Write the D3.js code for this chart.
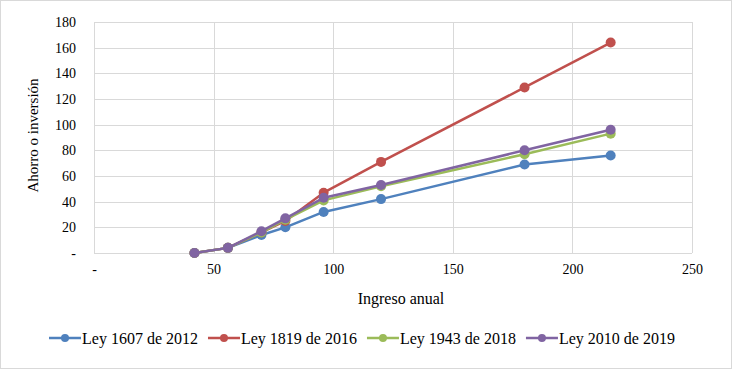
<!DOCTYPE html>
<html lang="es">
<head>
<meta charset="UTF-8">
<title>Ahorro o inversión</title>
<style>
  body { margin: 0; padding: 0; background: #fff; }
  svg { display: block; font-family: "Liberation Serif", "Times New Roman", serif; }
</style>
</head>
<body>
<svg id="chart" width="732" height="369"></svg>
<script src="https://d3js.org/d3.v7.min.js"></script>
<script>
// data
var ingreso = [42, 56, 70, 80, 96, 120, 180, 216];
var ley1607 = [0, 4, 14, 20, 32, 42, 69, 76];
var ley1819 = [0, 4, 16, 25, 47, 71, 129, 164];
var ley1943 = [0, 4, 16, 26, 41, 52, 77, 93];
var ley2010 = [0, 4, 17, 27, 43, 53, 80, 96];
var seriesNames = ["Ley 1607 de 2012", "Ley 1819 de 2016", "Ley 1943 de 2018", "Ley 2010 de 2019"];
var seriesColors = ["#4f81bd", "#c0504d", "#9bbb59", "#8064a2"];
var xTicks = [0, 50, 100, 150, 200, 250];
var yTicks = [0, 20, 40, 60, 80, 100, 120, 140, 160, 180];

var series = [ley1607, ley1819, ley1943, ley2010].map(function (vals, i) {
    return {
        name: seriesNames[i],
        color: seriesColors[i],
        points: vals.map(function (v, j) { return {x: ingreso[j], y: v}; })
    };
});

var svg = d3.select("#chart");
var margin = {top: 22, right: 40, bottom: 116, left: 94};
var width = 732 - margin.left - margin.right,
    height = 369 - margin.top - margin.bottom;

// outer border
svg.append("rect")
    .attr("x", 0.5).attr("y", 0.5)
    .attr("width", 731).attr("height", 368)
    .attr("fill", "none").attr("stroke", "#d9d9d9");

var g = svg.append("g")
    .attr("transform", "translate(" + margin.left + "," + margin.top + ")");

var x = d3.scaleLinear().domain([0, 250]).range([0, width]);
var y = d3.scaleLinear().domain([0, 180]).range([height, 0]);

var fmt = function (d) { return d === 0 ? "-" : d; };

// grid
g.append("g")
    .selectAll("line.h").data(yTicks).enter().append("line")
    .attr("x1", 0).attr("x2", width)
    .attr("y1", function (d) { return Math.round(y(d)) + 0.5; })
    .attr("y2", function (d) { return Math.round(y(d)) + 0.5; })
    .attr("stroke", "#d9d9d9");
g.append("g")
    .selectAll("line.v").data(xTicks).enter().append("line")
    .attr("y1", 0).attr("y2", height)
    .attr("x1", function (d) { return Math.round(x(d)) + 0.5; })
    .attr("x2", function (d) { return Math.round(x(d)) + 0.5; })
    .attr("stroke", "#d9d9d9");

// axes (labels only)
var yAxis = g.append("g")
    .call(d3.axisLeft(y).tickValues(yTicks).tickFormat(fmt).tickSize(0).tickPadding(18));
yAxis.select(".domain").remove();
yAxis.selectAll("text").style("font-size", "14px").attr("fill", "#000").style("font-family", "Liberation Serif");

var xAxis = g.append("g")
    .attr("transform", "translate(0," + height + ")")
    .call(d3.axisBottom(x).tickValues(xTicks).tickFormat(fmt).tickSize(0).tickPadding(11));
xAxis.select(".domain").remove();
xAxis.selectAll("text").style("font-size", "14px").attr("fill", "#000").style("font-family", "Liberation Serif");

// axis titles
svg.append("text")
    .attr("transform", "translate(33," + (margin.top + height / 2 - 2) + ") rotate(-90)")
    .attr("text-anchor", "middle")
    .attr("dy", "0.35em")
    .style("font-size", "15px")
    .text("Ahorro o inversión");

svg.append("text")
    .attr("x", margin.left + width / 2 + 8)
    .attr("y", 304)
    .attr("text-anchor", "middle")
    .style("font-size", "16px")
    .text("Ingreso anual");

// lines and markers
var line = d3.line()
    .x(function (d) { return x(d.x); })
    .y(function (d) { return y(d.y); });

series.forEach(function (s) {
    g.append("path")
        .datum(s.points)
        .attr("fill", "none")
        .attr("stroke", s.color)
        .attr("stroke-width", 2.5)
        .attr("stroke-linejoin", "round")
        .attr("d", line);
    g.selectAll(null).data(s.points).enter().append("circle")
        .attr("cx", function (d) { return x(d.x); })
        .attr("cy", function (d) { return y(d.y); })
        .attr("r", 5)
        .attr("fill", s.color);
});

// legend
var legend = svg.append("g").attr("transform", "translate(0,338)");
var item = legend.selectAll("g").data(series).enter().append("g");
var pos = 49;
item.each(function (s) {
    var el = d3.select(this).attr("transform", "translate(" + pos + ",0)");
    el.append("line").attr("x1", 0).attr("x2", 32).attr("y1", 0).attr("y2", 0)
        .attr("stroke", s.color).attr("stroke-width", 2.5);
    el.append("circle").attr("cx", 16).attr("cy", 0).attr("r", 4).attr("fill", s.color);
    var t = el.append("text").attr("x", 33).attr("dy", "0.35em")
        .style("font-size", "16px").text(s.name);
    pos += 33 + t.node().getComputedTextLength() + 10;
});
</script>
</body>
</html>
